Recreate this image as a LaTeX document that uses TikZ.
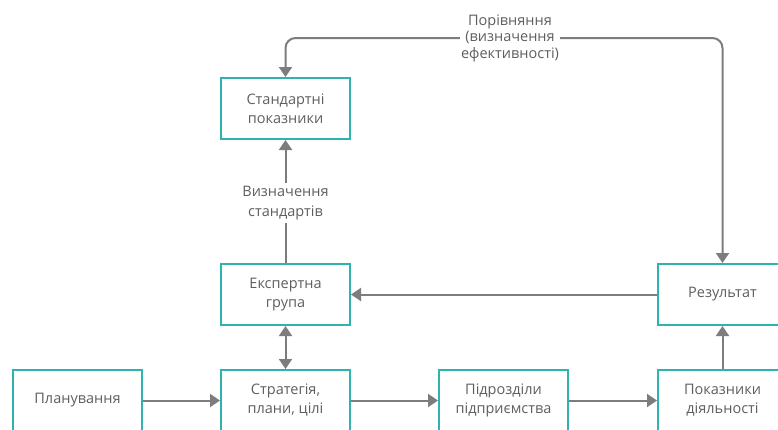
\documentclass[tikz,border=0pt]{standalone}
\usepackage{fontspec}
\setmainfont{Open Sans}
\usetikzlibrary{arrows.meta}
\definecolor{boxc}{RGB}{45,180,175}
\definecolor{linec}{RGB}{125,125,125}
\definecolor{txtc}{RGB}{95,95,95}
\begin{document}
\begin{tikzpicture}[x=1pt,y=-1pt,
  box/.style={draw=boxc,line width=2pt,fill=white,minimum width=129pt,minimum height=61pt,inner sep=0pt,align=center,text=txtc,font=\fontsize{14.5}{19}\selectfont},
  conn/.style={draw=linec,line width=2pt,-{Triangle[width=13pt,length=10pt]}},
  biconn/.style={draw=linec,line width=2pt,{Triangle[width=13pt,length=10pt]}-{Triangle[width=13pt,length=10pt]}},
  lbl/.style={fill=white,text=txtc,align=center,inner sep=1pt,font=\fontsize{14.5}{16.5}\selectfont}]
\useasboundingbox (0,0) rectangle (778,429);
\clip (0,0) rectangle (778,429);
\fill[white] (0,0) rectangle (778,429);

\node[box] (std) at (285.5,108.5) {Стандартні\\показники};
\node[box] (exp) at (285.5,294.5) {Експертна\\група};
\node[box] (plan) at (77.5,400.5) {Планування};
\node[box] (strat) at (285.5,400.5) {Стратегія,\\плани, цілі};
\node[box] (sub) at (503.5,400.5) {Підрозділи\\підприємства};
\node[box] (perf) at (722.5,400.5) {Показники\\діяльності};
\node[box] (res) at (722.5,294.5) {Результат};

\node[lbl] (cmp) at (510,38) {Порівняння\\(визначення\\ефективності)};
\draw[conn,rounded corners=10pt] (cmp.west) -| (std.north);
\draw[conn,rounded corners=10pt] (cmp.east) -| (res.north);

\draw[conn] (exp.north) -- (std.south);
\node[lbl,inner sep=3pt,font=\fontsize{14.5}{20}\selectfont] (def) at (285.5,203) {Визначення\\стандартів};

\draw[biconn] (exp.south) -- (strat.north);
\draw[conn] (res.west) -- (exp.east);
\draw[conn] (perf.north) -- (res.south);
\draw[conn] (plan.east) -- (strat.west);
\draw[conn] (strat.east) -- (sub.west);
\draw[conn] (sub.east) -- (perf.west);
\end{tikzpicture}
\end{document}
